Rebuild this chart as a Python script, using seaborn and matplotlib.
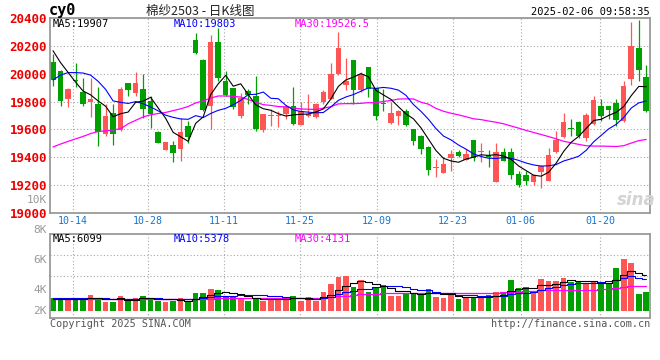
import matplotlib
matplotlib.use("Agg")
import matplotlib.pyplot as plt
import seaborn as sns
import numpy as np
import pandas as pd

# daily K-line data (2024-10-09 .. 2025-02-06)
opens = [20086, 20022, 19815, 19955, 19870, 19796, 19784, 19570, 19720, 19595,
         19930, 19863, 19887, 19803, 19585, 19455, 19488, 19460, 19625, 20240,
         20100, 19768, 20231, 19946, 19894, 19697, 19875, 19840, 19595, 19700,
         19700, 19708, 19765, 19632, 19697, 19690, 19796, 19822, 20000, 19917,
         20100, 19880, 20048, 19894, 19790, 19645, 19697, 19732, 19602, 19554,
         19476, 19320, 19288, 19395, 19440, 19383, 19523, 19435, 19416, 19222,
         19440, 19440, 19281, 19274, 19226, 19293, 19233, 19435, 19547, 19605,
         19654, 19537, 19637, 19765, 19765, 19789, 19661, 19963, 20188, 19975]
highs = [20140, 20030, 19898, 20075, 19970, 19970, 19903, 19780, 19785, 19903,
         19932, 20012, 20000, 19839, 19590, 19510, 19518, 19685, 19660, 20290,
         20105, 20278, 20330, 20022, 19900, 19863, 19893, 19982, 19712, 19750,
         19730, 19775, 19903, 19800, 19851, 19790, 19880, 20077, 20302, 20112,
         20100, 20012, 20050, 19900, 19887, 19800, 19740, 19750, 19605, 19560,
         19480, 19388, 19400, 19452, 19452, 19460, 19525, 19500, 19452, 19506,
         19470, 19470, 19300, 19305, 19280, 19345, 19466, 19590, 19716, 19673,
         19660, 19720, 19840, 19815, 19770, 19815, 19946, 20368, 20385, 20065]
lows = [19910, 19768, 19762, 19905, 19770, 19690, 19483, 19555, 19485, 19590,
        19840, 19840, 19685, 19613, 19500, 19450, 19365, 19370, 19505, 20140,
        19735, 19602, 19950, 19840, 19745, 19685, 19783, 19590, 19585, 19625,
        19620, 19672, 19630, 19630, 19690, 19685, 19780, 19815, 19990, 19880,
        19785, 19870, 19832, 19666, 19733, 19640, 19632, 19625, 19488, 19423,
        19270, 19262, 19285, 19300, 19400, 19380, 19376, 19365, 19333, 19222,
        19370, 19245, 19186, 19200, 19198, 19180, 19230, 19430, 19540, 19554,
        19535, 19520, 19630, 19660, 19673, 19625, 19650, 19917, 19950, 19727]
closes = [19958, 19803, 19893, 19945, 19780, 19822, 19585, 19700, 19570, 19887,
          19880, 19935, 19744, 19708, 19505, 19508, 19430, 19585, 19545, 20150,
          19740, 20231, 19970, 19850, 19760, 19827, 19845, 19601, 19710, 19705,
          19705, 19760, 19642, 19732, 19713, 19780, 19868, 20000, 20183, 19946,
          19880, 19995, 19887, 19697, 19780, 19720, 19732, 19630, 19518, 19459,
          19310, 19325, 19352, 19423, 19412, 19423, 19395, 19437, 19400, 19440,
          19375, 19276, 19198, 19233, 19274, 19340, 19418, 19523, 19656, 19600,
          19554, 19704, 19808, 19697, 19740, 19665, 19910, 20200, 20028, 19732]
volumes = [2163, 2050, 1935, 1879, 2050, 2676, 2163, 1480, 1480, 2505,
           1708, 2163, 2505, 2163, 1708, 1480, 1708, 2163, 1480, 3017,
           3017, 3701, 3530, 2505, 2505, 2163, 1708, 2163, 1708, 2163,
           2050, 1879, 2505, 1708, 2277, 1708, 3164, 4530, 5750, 5870,
           4068, 5232, 3139, 4042, 4387, 2535, 2535, 2909, 2909, 2966,
           3674, 2342, 2165, 2678, 1965, 2390, 2112, 2112, 2621, 3187,
           3187, 5237, 3869, 4042, 3139, 5376, 5069, 5069, 5578, 4896,
           4896, 4675, 4835, 4560, 4646, 7286, 8800, 8117, 2880, 3230]

# moving-average values before each window is full
ma5_head = [20165, 20080, 20010, 19940]
ma10_head = [19955, 19990, 20008, 20008, 20005, 19990, 19946, 19888, 19805]
ma30_head = [19474, 19495, 19514, 19532, 19550, 19570, 19585, 19590, 19596, 19605,
             19640, 19665, 19690, 19705, 19714, 19722, 19735, 19748, 19765, 19790,
             19805, 19825, 19840, 19840, 19838, 19832, 19815, 19795, 19778]
vol_ma5_head = [2030, 2010, 2000, 2010]
vol_ma10_head = [2150, 2140, 2130, 2120, 2110, 2100, 2090, 2070, 2050]
vol_ma30_head = [1950, 1950, 1955, 1955, 1960, 1965, 1965, 1970, 1970, 1975,
                 1975, 1980, 1985, 1990, 1990, 1995, 2000, 2005, 2010, 2020,
                 2030, 2045, 2060, 2075, 2090, 2100, 2110, 2125, 2140]

date_labels = ["10-14", "10-28", "11-11", "11-25", "12-09", "12-23", "01-06", "01-20"]
date_pos = [2.6, 12.6, 22.8, 32.9, 43.1, 53.2, 62.3, 72.9]
price_ticks = [20400, 20200, 20000, 19800, 19600, 19400, 19200, 19000]


def moving(values, n, head):
    s = pd.Series(values, dtype=float).rolling(n).mean()
    s.iloc[:n - 1] = head
    return s


df = pd.DataFrame({"open": opens, "high": highs, "low": lows,
                   "close": closes, "vol": volumes})
df["i"] = np.arange(len(df))
df["ma5"] = moving(closes, 5, ma5_head)
df["ma10"] = moving(closes, 10, ma10_head)
df["ma30"] = moving(closes, 30, ma30_head)
df["vma5"] = moving(volumes, 5, vol_ma5_head)
df["vma10"] = moving(volumes, 10, vol_ma10_head)
df["vma30"] = moving(volumes, 30, vol_ma30_head)

sns.set_style("white")
plt.rcParams["font.family"] = ["DejaVu Sans Mono", "Noto Sans CJK SC", "DejaVu Sans"]

RED = "#FF5555"
GREEN = "#00A000"
GRID = "#A8A8A8"
BORDER = "#9A9A9A"
DOT = (0, (1, 2))

W, H = 660, 360
fig = plt.figure(figsize=(6.6, 3.6), dpi=100)


def box(x0, y0, x1, y1):
    return [x0 / W, 1 - y1 / H, (x1 - x0) / W, (y1 - y0) / H]


def label(x, y, s, **kw):
    fig.text(x / W, 1 - y / H, s, va="center", **kw)


ax = fig.add_axes(box(50, 18, 650, 213))
axv = fig.add_axes(box(50, 234, 650, 318))

up = df["close"] >= df["open"]
colors = np.where(up, RED, GREEN)

# candles
body_low = df[["open", "close"]].min(axis=1)
body_h = (df["close"] - df["open"]).abs().clip(lower=7)
ax.vlines(df["i"], df["low"], df["high"], colors=colors, lw=0.9, zorder=2)
ax.bar(df["i"], body_h, bottom=body_low, width=0.74, color=colors, lw=0, zorder=2)

sns.lineplot(data=df, x="i", y="ma30", ax=ax, color="#FF00FF", lw=0.9, zorder=3)
sns.lineplot(data=df, x="i", y="ma10", ax=ax, color="#0000FF", lw=0.8, zorder=3)
sns.lineplot(data=df, x="i", y="ma5", ax=ax, color="black", lw=0.8, zorder=3)

ax.set_xlim(-0.4, 79.5)
ax.set_ylim(19010, 20400)
ax.set_yticks(price_ticks)
ax.set_yticklabels([str(p) for p in price_ticks], color="#EE0000",
                   fontsize=9, fontweight="bold")
ax.set_xticks(date_pos)
ax.set_xticklabels(date_labels, color="#1874CD", fontsize=7.2)
ax.tick_params(length=0, pad=2)
ax.grid(True, color=GRID, lw=0.8, ls=DOT)
ax.set_xlabel("")
ax.set_ylabel("")

# volume
axv.bar(df["i"], df["vol"], width=0.75, color=colors, lw=0, zorder=2)
sns.lineplot(data=df, x="i", y="vma30", ax=axv, color="#FF00FF", lw=0.9,
             drawstyle="steps-mid", zorder=3)
sns.lineplot(data=df, x="i", y="vma10", ax=axv, color="#0000FF", lw=0.8,
             drawstyle="steps-mid", zorder=3)
sns.lineplot(data=df, x="i", y="vma5", ax=axv, color="black", lw=0.8,
             drawstyle="steps-mid", zorder=3)
axv.set_xlim(-0.4, 79.5)
axv.set_ylim(-1280, 13080)
axv.set_xticks(date_pos)
axv.set_xticklabels([])
axv.set_yticks([5900, 9490])
axv.set_yticklabels([])
axv.tick_params(length=0)
axv.grid(True, color=GRID, lw=0.8, ls=DOT)
axv.set_xlabel("")
axv.set_ylabel("")

for a in (ax, axv):
    for sp in a.spines.values():
        sp.set_color(BORDER)
        sp.set_linewidth(1.3)

# header and labels
label(49, 11, "cy0", ha="left", fontsize=11, fontweight="bold", color="black")
label(200, 11, "棉纱2503 - 日K线图", ha="center", fontsize=9, color="#222222",
      family=["Noto Sans CJK SC", "DejaVu Sans"])
label(650, 12, "2025-02-06 09:58:35", ha="right", fontsize=7.5, color="black")
label(53, 24, "MA5:19907", ha="left", fontsize=7.5, color="black")
label(174, 24, "MA10:19803", ha="left", fontsize=7.5, color="#0000FF")
label(295, 24, "MA30:19526.5", ha="left", fontsize=7.5, color="#FF00FF")
label(47, 200, "10K", ha="right", fontsize=8, color="#999999")
label(636, 200, "sina", ha="center", fontsize=12, color="#D3D3D3",
      fontweight="bold", style="italic", family="DejaVu Sans")

for txt, y in [("8K", 230), ("6K", 260), ("4K", 290), ("2K", 311)]:
    label(47, y, txt, ha="right", fontsize=8, color="#999999")
label(53, 239, "MA5:6099", ha="left", fontsize=7.5, color="black")
label(174, 239, "MA10:5378", ha="left", fontsize=7.5, color="#0000FF")
label(295, 239, "MA30:4131", ha="left", fontsize=7.5, color="#FF00FF")

label(50, 324, "Copyright 2025 SINA.COM", ha="left", fontsize=7.3, color="#555555")
label(650, 324, "http://finance.sina.com.cn", ha="right", fontsize=7.3, color="#555555")

fig.savefig("out.png", dpi=100)
